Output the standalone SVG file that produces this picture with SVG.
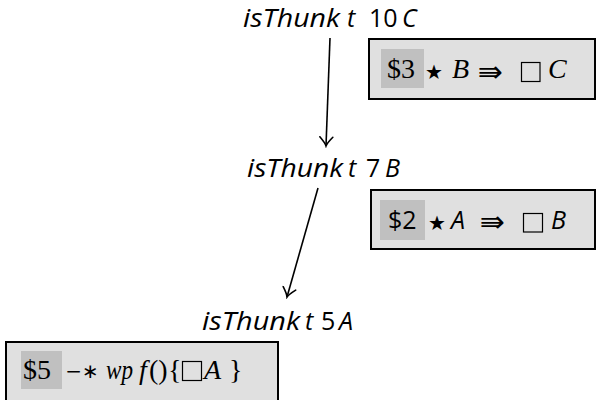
<svg xmlns="http://www.w3.org/2000/svg" width="596" height="400" viewBox="0 0 596 400">
<defs>
<style>
.lbl{font-family:"Open Sans","Noto Sans",sans-serif;font-size:25px;fill:#000}
.it{font-style:italic}
.box{fill:#e0e0e0;stroke:#000;stroke-width:2}
.hl{fill:#c0c0c0}
.mt{font-family:"Liberation Serif","DejaVu Serif",serif;font-size:28px;fill:#000}
.sym{font-family:"DejaVu Sans",sans-serif;fill:#000;text-anchor:middle}
.edge{fill:none;stroke:#000;stroke-width:1.6}
.sq{fill:none;stroke:#000;stroke-width:1.2}
</style>
<marker id="to" viewBox="-10 -8 12 16" refX="0" refY="0" markerWidth="12" markerHeight="16" markerUnits="userSpaceOnUse" orient="auto">
<path d="M-9,-6.5 Q-3,-1 0,0 Q-3,1 -9,6.5" fill="none" stroke="#000" stroke-width="1.6" stroke-linecap="round"/>
</marker>
</defs>
<g id="connectors">
<path class="edge" d="M330,38 L326,146" marker-end="url(#to)"/>
<path class="edge" d="M318,188 L287,297" marker-end="url(#to)"/>
</g>
<g id="n1">
<text class="lbl it" x="243" y="27" textLength="97" lengthAdjust="spacingAndGlyphs">isThunk</text>
<text class="lbl it" x="347" y="27">t</text>
<text class="lbl" x="369" y="27">10</text>
<text class="lbl it" x="402" y="27">C</text>
</g>
<g id="b1">
<rect class="box" x="369" y="39" width="226" height="60"/>
<rect class="hl" x="381" y="49" width="43" height="39"/>
<text class="mt" x="387" y="78">$3</text>
<text class="sym" x="434" y="79" font-size="20">★</text>
<text class="mt it" x="452" y="78">B</text>
<text class="sym" x="490" y="82" font-size="30">⇛</text>
<rect class="sq" x="521.5" y="62.5" width="18.5" height="19"/>
<text class="mt it" x="548" y="78">C</text>
</g>
<g id="n2">
<text class="lbl it" x="247" y="177" textLength="96" lengthAdjust="spacingAndGlyphs">isThunk</text>
<text class="lbl it" x="348" y="177">t</text>
<text class="lbl" x="366" y="177">7</text>
<text class="lbl it" x="385" y="177">B</text>
</g>
<g id="b2">
<rect class="box" x="371" y="190" width="224" height="59"/>
<rect class="hl" x="380" y="200" width="45" height="40"/>
<text class="lbl" x="388" y="229" font-size="27">$2</text>
<text class="sym" x="437" y="230" font-size="20">★</text>
<text class="lbl it" x="451" y="229" font-size="28">A</text>
<text class="sym" x="492" y="232" font-size="30">⇛</text>
<rect class="sq" x="523.5" y="213.5" width="19" height="18.5"/>
<text class="lbl it" x="551" y="229" font-size="28">B</text>
</g>
<g id="n3">
<text class="lbl it" x="202" y="330" textLength="98" lengthAdjust="spacingAndGlyphs">isThunk</text>
<text class="lbl it" x="305" y="330">t</text>
<text class="lbl" x="321" y="330">5</text>
<text class="lbl it" x="339" y="330">A</text>
</g>
<g id="b3">
<rect class="box" x="6" y="342" width="272" height="62"/>
<rect class="hl" x="21" y="351" width="41" height="38"/>
<text class="mt" x="23" y="379">$5</text>
<text class="sym" x="82" y="378" font-size="20">−∗</text>
<text class="mt it" x="106" y="379" textLength="27" lengthAdjust="spacingAndGlyphs">wp</text>
<text class="mt it" x="139" y="379">f</text>
<text class="mt" x="149" y="379">()</text>
<text class="mt" x="168" y="379">{</text>
<rect class="sq" x="182.5" y="361.5" width="19" height="19"/>
<text class="mt it" x="204" y="379">A</text>
<text class="mt" x="229" y="379">}</text>
</g>
</svg>
